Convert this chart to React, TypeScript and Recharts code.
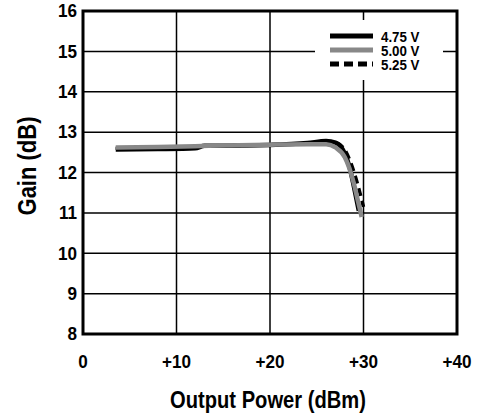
import {
  CartesianGrid,
  Line,
  LineChart,
  ReferenceArea,
  XAxis,
  YAxis,
} from "recharts";

const xTicks = [0, 10, 20, 30, 40];
const yTicks = [8, 9, 10, 11, 12, 13, 14, 15, 16];

const powerA = [3.5, 8, 12, 13, 15, 20, 24, 26, 27, 28, 28.5, 29, 29.5];
const gainA = [12.57, 12.58, 12.6, 12.66, 12.66, 12.68, 12.73, 12.78, 12.74, 12.47, 12.14, 11.62, 11.05];

const powerB = [3.5, 8, 12, 15, 20, 24, 26, 27, 28, 28.5, 29, 29.4, 29.8];
const gainB = [12.62, 12.63, 12.65, 12.67, 12.69, 12.7, 12.7, 12.62, 12.38, 12.1, 11.7, 11.3, 10.9];

const powerC = [3.5, 8, 12, 15, 20, 24, 26, 27, 28, 28.5, 29, 29.5, 30];
const gainC = [12.6, 12.61, 12.64, 12.66, 12.69, 12.72, 12.76, 12.74, 12.56, 12.32, 12.0, 11.6, 11.15];

const names = ["4.75 V", "5.00 V", "5.25 V"];

const zip = (xs: number[], ys: number[]) => xs.map((p, i) => ({ p, g: ys[i] }));

const FONT = "'Liberation Sans', Arial, sans-serif";

// narrow bold text, squeezed horizontally like the condensed face in the original
function Squeezed({ x, y, text, size, sx, rotate = 0, anchor = "middle" }: any) {
  return (
    <text
      transform={`translate(${x},${y}) rotate(${rotate}) scale(${sx},1)`}
      textAnchor={anchor}
      dominantBaseline="central"
      fontFamily={FONT}
      fontWeight="bold"
      fontSize={size}
      fill="#000"
    >
      {text}
    </text>
  );
}

const XTick = ({ x, y, payload }: any) => (
  <Squeezed
    x={x}
    y={y + 20}
    text={payload.value === 0 ? "0" : `+${payload.value}`}
    size={19}
    sx={0.9}
  />
);

const YTick = ({ x, y, payload }: any) => (
  <Squeezed x={x + 2} y={y} text={String(payload.value)} size={19} sx={0.9} anchor="end" />
);

function Legend() {
  const rows = [
    { name: names[0], color: "#000", dash: undefined },
    { name: names[1], color: "#888", dash: undefined },
    { name: names[2], color: "#000", dash: "9 5" },
  ];
  return (
    <g>
      <rect x={315} y={20} width={128} height={60} fill="#fff" />
      {rows.map((r, i) => (
        <g key={r.name}>
          <line
            x1={330}
            x2={373}
            y1={36 + i * 14}
            y2={36 + i * 14}
            stroke={r.color}
            strokeWidth={5}
            strokeDasharray={r.dash}
          />
          <Squeezed x={381} y={37 + i * 14} text={r.name} size={15.5} sx={0.86} anchor="start" />
        </g>
      ))}
    </g>
  );
}

export default function App() {
  return (
    <div style={{ position: "absolute", left: 0, top: 0, background: "#fff" }}>
      <LineChart
        width={480}
        height={417}
        margin={{ top: 11, right: 23, left: 0, bottom: 0 }}
      >
        <CartesianGrid stroke="#000" strokeWidth={1.5} />
        <XAxis
          type="number"
          dataKey="p"
          domain={[0, 40]}
          ticks={xTicks}
          height={83}
          axisLine={false}
          tickLine={false}
          tick={<XTick />}
        />
        <YAxis
          type="number"
          domain={[8, 16]}
          ticks={yTicks}
          width={83}
          axisLine={false}
          tickLine={false}
          tick={<YTick />}
        />
        <ReferenceArea
          x1={0}
          x2={40}
          y1={8}
          y2={16}
          fill="none"
          stroke="#000"
          strokeWidth={3}
          fillOpacity={0}
        />
        <Line
          data={zip(powerC, gainC)}
          dataKey="g"
          type="monotone"
          stroke="#000"
          strokeWidth={3.5}
          strokeDasharray="8 5"
          dot={false}
          isAnimationActive={false}
        />
        <Line
          data={zip(powerA, gainA)}
          dataKey="g"
          type="monotone"
          stroke="#000"
          strokeWidth={4.5}
          dot={false}
          isAnimationActive={false}
        />
        <Line
          data={zip(powerB, gainB)}
          dataKey="g"
          type="monotone"
          stroke="#888"
          strokeWidth={4.5}
          dot={false}
          isAnimationActive={false}
        />
        <Legend />
        <Squeezed x={268} y={400} text="Output Power (dBm)" size={24} sx={0.84} />
        <Squeezed x={28} y={166} text="Gain (dB)" size={25} sx={0.88} rotate={-90} />
      </LineChart>
    </div>
  );
}
